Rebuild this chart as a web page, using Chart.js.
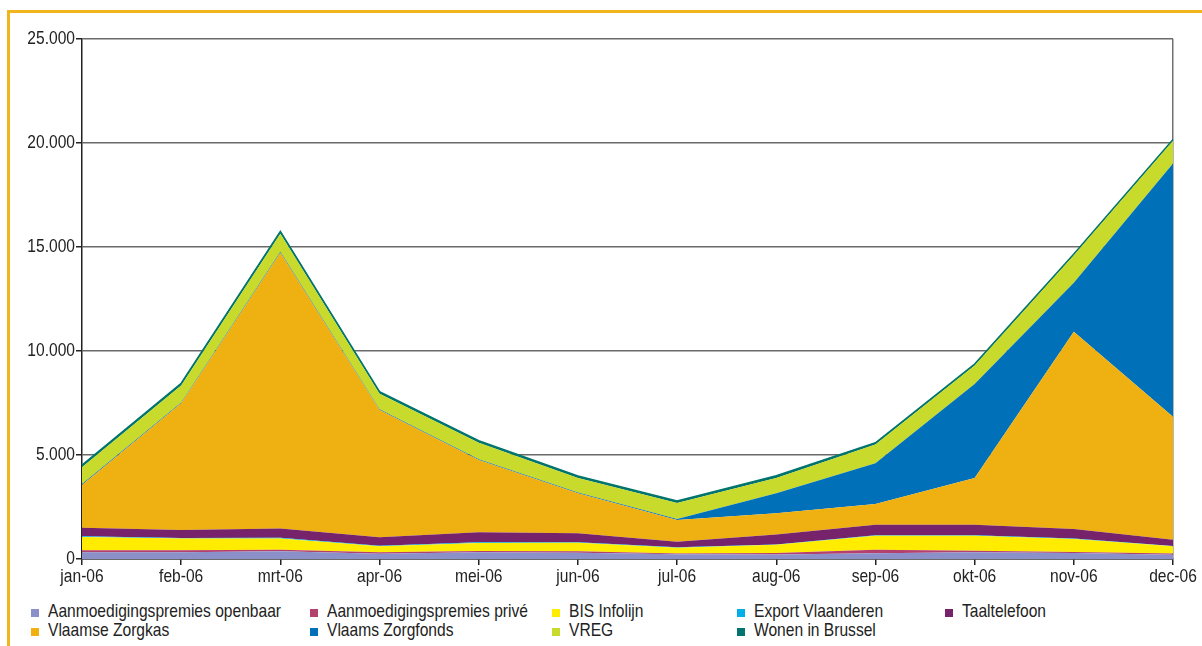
<!DOCTYPE html>
<html lang="nl">
<head>
<meta charset="UTF-8">
<title>Oproepen per maand 2006</title>
<script src="https://cdn.jsdelivr.net/npm/chart.js"></script>
<style>
    body {
        margin: 0;
        background: #fff;
        font-family: 'Liberation Sans', Arial, sans-serif;
        color: #222;
    }
    .frame {
        position: absolute;
        left: 7px;
        top: 10px;
        width: 1200px;
        height: 640px;
        border-top: 3px solid #f0b41c;
        border-left: 3px solid #f0b41c;
    }
    #wrap {
        position: absolute;
        left: 0;
        top: 0;
        width: 1202px;
        height: 600px;
    }
    .legend-box {
        position: absolute;
        width: 8px;
        height: 8px;
    }
    .legend-text {
        position: absolute;
        font-size: 19px;
        line-height: 19px;
        white-space: nowrap;
        transform: scaleX(0.82);
        transform-origin: left center;
    }
</style>
</head>
<body>
<div class="frame"></div>
<div id="wrap"><canvas id="chart" width="1202" height="600"></canvas></div>
<div id="legend"></div>

<script>
const months = ['jan-06', 'feb-06', 'mrt-06', 'apr-06', 'mei-06', 'jun-06',
                'jul-06', 'aug-06', 'sep-06', 'okt-06', 'nov-06', 'dec-06'];

const premiesOpenbaar = [320, 330, 370, 250, 320, 300, 230, 220, 280, 320, 290, 210];
const premiesPrive    = [100, 90, 80, 70, 60, 70, 40, 70, 170, 80, 50, 50];
const bisInfolijn     = [640, 560, 540, 290, 390, 410, 270, 390, 670, 720, 620, 350];
const exportVl        = [30, 30, 30, 30, 30, 20, 20, 20, 20, 20, 20, 20];
const taaltelefoon    = [410, 390, 450, 400, 490, 440, 270, 480, 510, 510, 460, 300];
const zorgkas         = [2060, 6090, 13250, 6120, 3470, 1920, 1050, 1020, 990, 2240, 9490, 5910];
const zorgfonds       = [40, 40, 50, 40, 40, 40, 40, 960, 1960, 4520, 2350, 12180];
const vreg            = [810, 810, 870, 740, 790, 690, 770, 740, 900, 890, 1320, 1090];
const wonenBrussel    = [110, 110, 110, 100, 100, 100, 100, 100, 90, 70, 60, 60];

const yTicks = [0, 5000, 10000, 15000, 20000, 25000];
const yTickLabels = ['0', '5.000', '10.000', '15.000', '20.000', '25.000'];

const seriesNames = ['Aanmoedigingspremies openbaar', 'Aanmoedigingspremies privé', 'BIS Infolijn',
                     'Export Vlaanderen', 'Taaltelefoon', 'Vlaamse Zorgkas', 'Vlaams Zorgfonds',
                     'VREG', 'Wonen in Brussel'];
const seriesData = [premiesOpenbaar, premiesPrive, bisInfolijn, exportVl, taaltelefoon,
                    zorgkas, zorgfonds, vreg, wonenBrussel];
const seriesColors = ['#8c90c8', '#b4406e', '#ffec00', '#00aee8', '#76236b',
                      '#eeb111', '#0070b9', '#c8da2b', '#00746d'];

const LABEL_FONT = "19px 'Liberation Sans', Arial, sans-serif";
const NARROW = 0.82;   // squeeze Arial-like glyphs into a narrow face

// stacked areas, each filled down to the one below it;
// the top layer gets a thin edge so it reads as a line
const datasets = seriesNames.map((name, i) => ({
    label: name,
    data: seriesData[i],
    backgroundColor: seriesColors[i],
    borderColor: seriesColors[i],
    borderWidth: i === seriesNames.length - 1 ? 1.5 : 0,
    pointRadius: 0,
    tension: 0,
    fill: i === 0 ? 'origin' : '-1'
}));

function narrowText(ctx, text, x, y, align, baseline) {
    ctx.save();
    ctx.font = LABEL_FONT;
    ctx.fillStyle = '#222';
    ctx.textAlign = align;
    ctx.textBaseline = baseline;
    ctx.translate(x, y);
    ctx.scale(NARROW, 1);
    ctx.fillText(text, 0, 0);
    ctx.restore();
}

// tick labels drawn by hand so they can be condensed
const narrowTicks = {
    id: 'narrowTicks',
    afterDraw(chart) {
        const ctx = chart.ctx;
        const xs = chart.scales.x;
        const ys = chart.scales.y;
        months.forEach((m, i) => {
            narrowText(ctx, m, xs.getPixelForTick(i), xs.top + 8, 'center', 'top');
        });
        yTicks.forEach((v, i) => {
            narrowText(ctx, yTickLabels[i], ys.right - 7, ys.getPixelForValue(v), 'right', 'middle');
        });
    }
};

new Chart(document.getElementById('chart'), {
    type: 'line',
    data: { labels: months, datasets: datasets },
    plugins: [narrowTicks],
    options: {
        responsive: false,
        animation: false,
        devicePixelRatio: 1,
        layout: { padding: { top: 39, right: 29, left: 0, bottom: 0 } },
        plugins: {
            legend: { display: false },
            tooltip: { enabled: false }
        },
        scales: {
            x: {
                offset: false,
                afterFit: (scale) => { scale.height = 41; },
                grid: {
                    color: (ctx) => ctx.index === months.length - 1 ? '#707070' : 'transparent',
                    lineWidth: 1.5,
                    tickColor: '#222',
                    tickLength: 6
                },
                border: { color: '#222', width: 1.5 },
                ticks: { display: false, autoSkip: false, maxRotation: 0 }
            },
            y: {
                stacked: true,
                min: 0,
                max: 25000,
                afterFit: (scale) => { scale.width = 82; },
                afterBuildTicks: (scale) => { scale.ticks = yTicks.map(v => ({ value: v })); },
                grid: {
                    color: '#6a6a6a',
                    lineWidth: 1.5,
                    tickColor: '#222',
                    tickLength: 6
                },
                border: { color: '#222', width: 1.5 },
                ticks: { display: false }
            }
        }
    }
});

// legend below the chart: five columns, two rows
const legendCols = [31, 310, 552, 737, 945];
const legendBaselines = [617, 636];
const legend = document.getElementById('legend');
seriesNames.forEach((name, i) => {
    const col = legendCols[i % 5];
    const base = legendBaselines[Math.floor(i / 5)];
    const box = document.createElement('div');
    box.className = 'legend-box';
    box.style.left = col + 'px';
    box.style.top = (base - 8) + 'px';
    box.style.background = seriesColors[i];
    const txt = document.createElement('div');
    txt.className = 'legend-text';
    txt.style.left = (col + 17) + 'px';
    txt.style.top = (base - 16) + 'px';
    txt.textContent = name;
    legend.appendChild(box);
    legend.appendChild(txt);
});
</script>
</body>
</html>
